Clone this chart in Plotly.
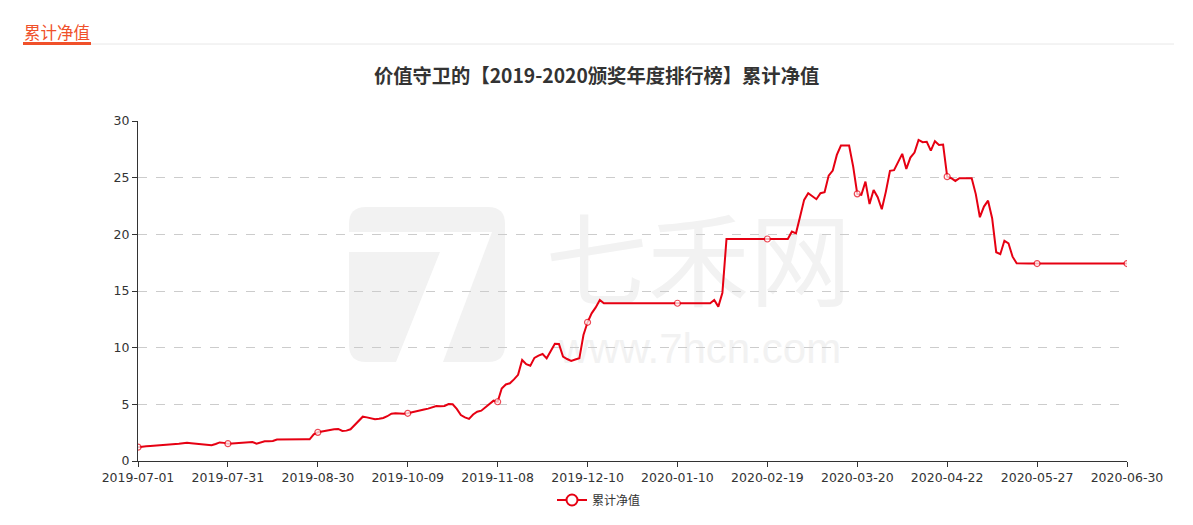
import pandas as pd
import plotly.graph_objects as go

# ---------------- data ----------------
title_text = "价值守卫的【2019-2020颁奖年度排行榜】累计净值"
series_name = "累计净值"
header_text = "累计净值"

# Trading-day calendar (SSE) for the period, holidays removed
start_date = "2019-07-01"
end_date = "2020-06-30"
market_holidays = [
    "2019-09-13", "2019-10-01", "2019-10-02", "2019-10-03", "2019-10-04", "2019-10-07",
    "2020-01-01", "2020-01-24", "2020-01-27", "2020-01-28", "2020-01-29", "2020-01-30",
    "2020-01-31", "2020-04-06", "2020-05-01", "2020-05-04", "2020-05-05",
    "2020-06-25", "2020-06-26",
]
trade_dates = [d.strftime("%Y-%m-%d") for d in pd.bdate_range(start_date, end_date)
               if d.strftime("%Y-%m-%d") not in market_holidays]

tick_labels = ["2019-07-01", "2019-07-31", "2019-08-30", "2019-10-09", "2019-11-08",
               "2019-12-10", "2020-01-10", "2020-02-19", "2020-03-20", "2020-04-22",
               "2020-05-27", "2020-06-30"]

nav_values = [
    1.22, 1.28, 1.31, 1.33, 1.35, 1.38, 1.42, 1.45, 1.47, 1.50, 1.52, 1.56, 1.60, 1.57, 1.54, 1.52, 1.47, 1.42, 1.40, 1.50, 1.64, 1.60,
    1.53, 1.55, 1.58, 1.60, 1.63, 1.67, 1.68, 1.53, 1.62, 1.74, 1.75, 1.76, 1.90, 1.91, 1.90, 1.91, 1.92, 1.94, 1.94, 1.92, 1.91, 2.35,
    2.53, 2.58, 2.66, 2.74, 2.80, 2.83, 2.65, 2.68, 2.80, 3.18, 3.60, 3.91, 3.85, 3.74, 3.68, 3.72, 3.80, 3.95, 4.18, 4.21, 4.17, 4.17,
    4.21, 4.30, 4.42, 4.48, 4.55, 4.62, 4.72, 4.85, 4.83, 4.85, 5.02, 5.00, 4.60, 4.05, 3.85, 3.72, 4.10, 4.35, 4.44, 4.75, 5.09, 5.32,
    5.23, 6.40, 6.75, 6.86, 7.20, 7.60, 8.91, 8.55, 8.41, 9.10, 9.30, 9.44, 9.06, 9.70, 10.35, 10.33, 9.21, 9.00, 8.83, 8.95, 9.06, 11.12,
    12.24, 13.03, 13.55, 14.21, 13.92, 13.92, 13.92, 13.92, 13.92, 13.92, 13.92, 13.92, 13.92, 13.92, 13.92, 13.92, 13.92, 13.92, 13.92, 13.92, 13.92, 13.92,
    13.92, 13.92, 13.92, 13.92, 13.92, 13.92, 13.92, 13.92, 13.92, 14.21, 13.62, 14.85, 19.59, 19.59, 19.59, 19.59, 19.59, 19.59, 19.59, 19.59, 19.59, 19.59,
    19.59, 19.59, 19.59, 19.59, 19.59, 19.59, 20.24, 20.09, 21.56, 23.04, 23.63, 23.39, 23.10, 23.63, 23.72, 25.18, 25.63, 27.01, 27.83, 27.83, 27.83, 25.98,
    23.57, 23.48, 24.65, 22.67, 23.92, 23.27, 22.21, 23.77, 25.60, 25.66, 26.36, 27.10, 25.77, 26.77, 27.21, 28.33, 28.13, 28.16, 27.39, 28.22, 27.89, 27.92,
    25.09, 24.95, 24.71, 24.95, 24.95, 24.95, 24.95, 23.55, 21.51, 22.45, 22.97, 21.42, 18.42, 18.25, 19.44, 19.21, 18.03, 17.45, 17.42, 17.42, 17.42, 17.42,
    17.42, 17.42, 17.42, 17.42, 17.42, 17.42, 17.42, 17.42, 17.42, 17.42, 17.42, 17.42, 17.42, 17.42, 17.42, 17.42, 17.42, 17.42, 17.42, 17.42, 17.42, 17.42,
    17.42,
]

# ---------------- styling ----------------
RED = "#e60012"
TXT = "#333333"
WM = "#f2f2f2"
W, H = 1177, 509           # page body has 8px default margin
L, R, T, B = 130, 58, 113, 56
PW, PH = W - L - R, H - T - B


def px(x):   # page pixel x -> paper
    return (x - 8 - L) / PW


def py(y):   # page pixel y -> paper
    return (H - B - (y - 8)) / PH


def path_from(cmds):
    out = []
    for c in cmds:
        if isinstance(c, str):
            out.append(c)
        else:
            out.append("%.5f,%.5f" % (px(c[0]), py(c[1])))
    return " ".join(out)


marker_sizes = [6 if d in tick_labels else 0 for d in trade_dates]

fig = go.Figure()
fig.add_trace(go.Scatter(
    x=trade_dates, y=nav_values, mode="lines+markers", name=series_name,
    line=dict(color=RED, width=2),
    marker=dict(size=marker_sizes, color="white", line=dict(color=RED, width=1.2)),
    showlegend=False, hoverinfo="x+y",
))
fig.add_trace(go.Scatter(
    x=[None], y=[None], mode="lines+markers", name=series_name,
    line=dict(color=RED, width=2),
    marker=dict(size=11, color="white", line=dict(color=RED, width=2)),
    showlegend=True,
))

fig.update_layout(
    width=W, height=H, autosize=False,
    margin=dict(l=L, r=R, t=T, b=B, pad=0, autoexpand=False),
    paper_bgcolor="white", plot_bgcolor="white",
    font=dict(family="Noto Sans CJK SC, DejaVu Sans, sans-serif", color=TXT, size=12),
    showlegend=True,
    legend=dict(orientation="h", x=px(599), xanchor="center", y=py(500), yanchor="middle",
                font=dict(size=12, color=TXT), bgcolor="rgba(0,0,0,0)"),
    xaxis=dict(
        type="category", range=[0, len(trade_dates) - 1],
        tickvals=tick_labels, ticktext=tick_labels,
        showgrid=False, showline=True, linecolor=TXT, linewidth=1,
        ticks="outside", ticklen=5, tickcolor=TXT,
        tickfont=dict(family="DejaVu Sans, sans-serif", size=12.5, color=TXT),
        zeroline=False,
    ),
    yaxis=dict(
        range=[0, 30], dtick=5, tick0=0,
        showgrid=True, gridcolor="#cccccc", griddash="dash", gridwidth=1,
        showline=True, linecolor=TXT, linewidth=1,
        ticks="outside", ticklen=5, tickcolor=TXT,
        tickfont=dict(family="DejaVu Sans, sans-serif", size=12.5, color=TXT),
        zeroline=False,
    ),
)

# title
fig.add_annotation(text="<b>" + title_text + "</b>", xref="paper", yref="paper",
                   x=px(596), y=py(75), xanchor="center", yanchor="middle",
                   showarrow=False, font=dict(size=19.3, color=TXT,
                                              family="Noto Sans CJK SC, sans-serif"))
# header tab
fig.add_annotation(text=header_text, xref="paper", yref="paper",
                   x=px(22), y=py(32), xanchor="left", yanchor="middle",
                   showarrow=False, font=dict(size=16.5, color="#f0502a",
                                              family="Noto Sans CJK SC, sans-serif"))
fig.add_shape(type="line", xref="paper", yref="paper",
              x0=px(91), x1=px(1174), y0=py(44), y1=py(44),
              line=dict(color="#e8e8e8", width=1))
fig.add_shape(type="rect", xref="paper", yref="paper",
              x0=px(23), x1=px(91), y0=py(45), y1=py(42),
              fillcolor="#f0502a", line=dict(width=0))

# watermark: logo block with a white "7", then site name
logo_left = path_from(["M", (349, 252), "L", (440, 252), "L", (396, 362), "L", (366, 362),
                       "Q", (349, 362), (349, 345), "Z"])
logo_top = path_from(["M", (349, 224), "Q", (349, 207), (366, 207), "L", (488, 207),
                      "Q", (505, 207), (505, 224), "L", (505, 232), "L", (349, 232), "Z"])
logo_right = path_from(["M", (492, 232), "L", (505, 232), "L", (505, 345),
                        "Q", (505, 362), (488, 362), "L", (443, 362), "Z"])
for p in (logo_left, logo_top, logo_right):
    fig.add_shape(type="path", path=p, xref="paper", yref="paper", layer="below",
                  fillcolor=WM, line=dict(width=0))

fig.add_shape(type="rect", xref="paper", yref="paper", layer="below",
              x0=px(545), x1=px(852), y0=py(335), y1=py(205),
              fillcolor="rgba(0,0,0,0)", line=dict(width=0),
              label=dict(text="七禾网", font=dict(size=102, color=WM,
                                                family="Noto Sans CJK SC, sans-serif"),
                         textposition="middle center"))
fig.add_shape(type="rect", xref="paper", yref="paper", layer="below",
              x0=px(552), x1=px(848), y0=py(362), y1=py(326),
              fillcolor="rgba(0,0,0,0)", line=dict(width=0),
              label=dict(text="www.7hcn.com", font=dict(size=42, color=WM,
                                                      family="Liberation Sans, sans-serif"),
                         textposition="middle center"))

fig.write_html("out.html")
